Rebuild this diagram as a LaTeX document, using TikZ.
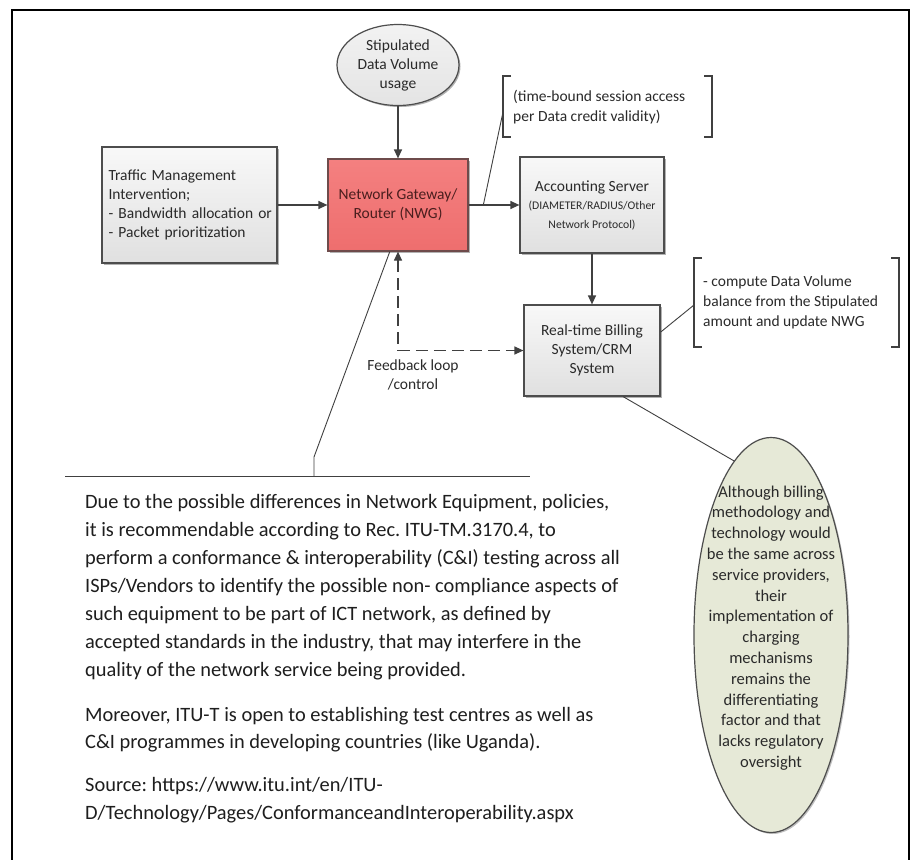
\documentclass[tikz,border=0pt]{standalone}
\usepackage{fontspec}
\setmainfont{Carlito}
\frenchspacing
\usetikzlibrary{arrows.meta,shadows,shapes.geometric,calc}
\definecolor{linegray}{HTML}{404040}
\definecolor{edgegray}{HTML}{4D4D4D}
\definecolor{boxtop}{HTML}{F8F8F8}
\definecolor{boxbot}{HTML}{E0E0E0}
\definecolor{nwgtop}{HTML}{F48080}
\definecolor{nwgbot}{HTML}{EE6E6E}
\definecolor{nwgtext}{HTML}{4A1E1E}
\definecolor{ovaltop}{HTML}{F2F2F2}
\definecolor{ovalbot}{HTML}{E4E4E4}
\definecolor{sagefill}{HTML}{E6E9D7}
\definecolor{txtgray}{HTML}{2A2A2A}
\definecolor{bodytext}{HTML}{1E1E1E}
\begin{document}
\begin{tikzpicture}[x=1pt,y=-1pt,
  dtext/.style={font=\fontsize{15.5}{19}\selectfont, text=txtgray},
  flowbox/.style={draw=edgegray, line width=1.2pt, top color=boxtop, bottom color=boxbot,
    drop shadow={shadow xshift=1.5pt,shadow yshift=-1.5pt,opacity=0.3,fill=black},
    inner sep=0pt, align=center, dtext},
  conn/.style={draw=linegray, line width=1.2pt},
  tip/.style={-{Triangle[length=9pt,width=8pt]}},
  callout/.style={draw=linegray, line width=0.9pt},
  brack/.style={draw=linegray, line width=1.2pt},
  notetext/.style={anchor=west, align=left, text=txtgray, font=\fontsize{15.5}{20}\selectfont},
  bodyline/.style={anchor=base west, inner sep=0pt, text=bodytext, font=\fontsize{20.4}{28}\selectfont},
]
\useasboundingbox (0,0) rectangle (914,860);
\fill[white] (0,0) rectangle (914,860);
% page frame (open at the bottom)
\draw[line width=1.6pt] (12,864) -- (12,10) -- (909,10) -- (909,864);

% main flow
\node[flowbox, ellipse, minimum width=122pt, minimum height=81pt,
      top color=ovaltop, bottom color=ovalbot] (vol) at (398,65) {Stipulated\\Data Volume\\usage};
\node[flowbox, minimum width=175pt, minimum height=116pt, text width=168pt, align=left]
      (tm) at (189.5,205) {\hspace*{3pt}Traffic Management\\\hspace*{3pt}Intervention;\\\hspace*{3pt}- Bandwidth allocation or\\\hspace*{3pt}- Packet prioritization};
\node[flowbox, minimum width=140pt, minimum height=92pt, top color=nwgtop, bottom color=nwgbot,
      draw=nwgtext!80, text=nwgtext] (nwg) at (398,205) {Network Gateway/\\Router (NWG)};
\node[flowbox, minimum width=144pt, minimum height=96pt] (acc) at (592,205)
      {Accounting Server\\[-1pt]{\fontsize{11.7}{17}\selectfont (DIAMETER/RADIUS/Other}\\{\fontsize{11.7}{17}\selectfont Network Protocol)}};
\node[flowbox, minimum width=136pt, minimum height=91pt] (bill) at (592,350.5)
      {Real-time Billing\\System/CRM\\System};

% connectors
\draw[conn,tip] (vol.south) -- (nwg.north);
\draw[conn,tip] (tm.east) -- (nwg.west);
\draw[conn,tip] (nwg.east) -- (acc.west);
\draw[conn,tip] (acc.south) -- (bill.north);
\draw[conn, dash pattern=on 12pt off 6pt,
      {Triangle[length=9pt,width=8pt]}-{Triangle[length=9pt,width=8pt]}] (nwg.south) |- (bill.west);
\node[dtext, align=center] (fb) at (413,374.5) {Feedback loop\\/control};

% bracketed notes
\draw[brack] (511,76) -- (503,76) -- (503,137) -- (511,137);
\draw[brack] (704,76) -- (712,76) -- (712,137) -- (704,137);
\coordinate (b1l) at (503,112);
\node[notetext] (note1) at (509.7,107) {(time-bound session access\\per Data credit validity)};

\draw[brack] (702,258) -- (694,258) -- (694,347) -- (702,347);
\draw[brack] (891,258) -- (899,258) -- (899,347) -- (891,347);
\coordinate (b2l) at (694,305);
\node[notetext] (note2) at (699.7,302.5) {- compute Data Volume\\balance from the Stipulated\\amount and update NWG};

\coordinate (tap) at ($(nwg.east)!0.29!(acc.west)$);
\draw[callout] (tap) -- (b1l);
\draw[callout] (bill.15) -- (b2l);

% side remark
\node[ellipse, draw=edgegray, line width=1.2pt, fill=sagefill, minimum width=154pt, minimum height=395pt,
      drop shadow={shadow xshift=1.5pt,shadow yshift=-1.5pt,opacity=0.25,fill=black}] (ge) at (771,635) {};
\node[align=center, text=txtgray, font=\fontsize{16.5}{20.8}\selectfont] (getext) at (771,628)
  {Although billing\\methodology and\\technology would\\be the same across\\service providers,\\their\\implementation of\\charging\\mechanisms\\remains the\\differentiating\\factor and that\\lacks regulatory\\oversight};
\draw[callout] (bill.304) -- (ge.102);

% lower note with leader line
\coordinate (hlA) at (65,476);
\coordinate (hlB) at (530,476);
\coordinate (hl) at (314,476);
\draw[callout] (hlA) -- (hlB);
\draw[callout] (nwg.260) -- (314,457) -- (hl);

\node[bodyline] (p1a) at (85,508) {Due to the possible differences in Network Equipment, policies,};
\node[bodyline] (p1b) at (85,536) {it is recommendable according to Rec. ITU-TM.3170.4, to};
\node[bodyline] (p1c) at (85,564) {perform a conformance \& interoperability (C\&I) testing across all};
\node[bodyline] (p1d) at (85,592) {ISPs/Vendors to identify the possible non- compliance aspects of};
\node[bodyline] (p1e) at (85,620) {such equipment to be part of ICT network, as defined by};
\node[bodyline] (p1f) at (85,648) {accepted standards in the industry, that may interfere in the};
\node[bodyline] (p1g) at (85,676) {quality of the network service being provided.};
\node[bodyline] (p2a) at (85,721) {Moreover, ITU-T is open to establishing test centres as well as};
\node[bodyline] (p2b) at (85,748) {C\&I programmes in developing countries (like Uganda).};
\node[bodyline] (p3a) at (85,791) {Source: https://www.itu.int/en/ITU-};
\node[bodyline] (p3b) at (85,819) {D/Technology/Pages/ConformanceandInteroperability.aspx};
\end{tikzpicture}
\end{document}
